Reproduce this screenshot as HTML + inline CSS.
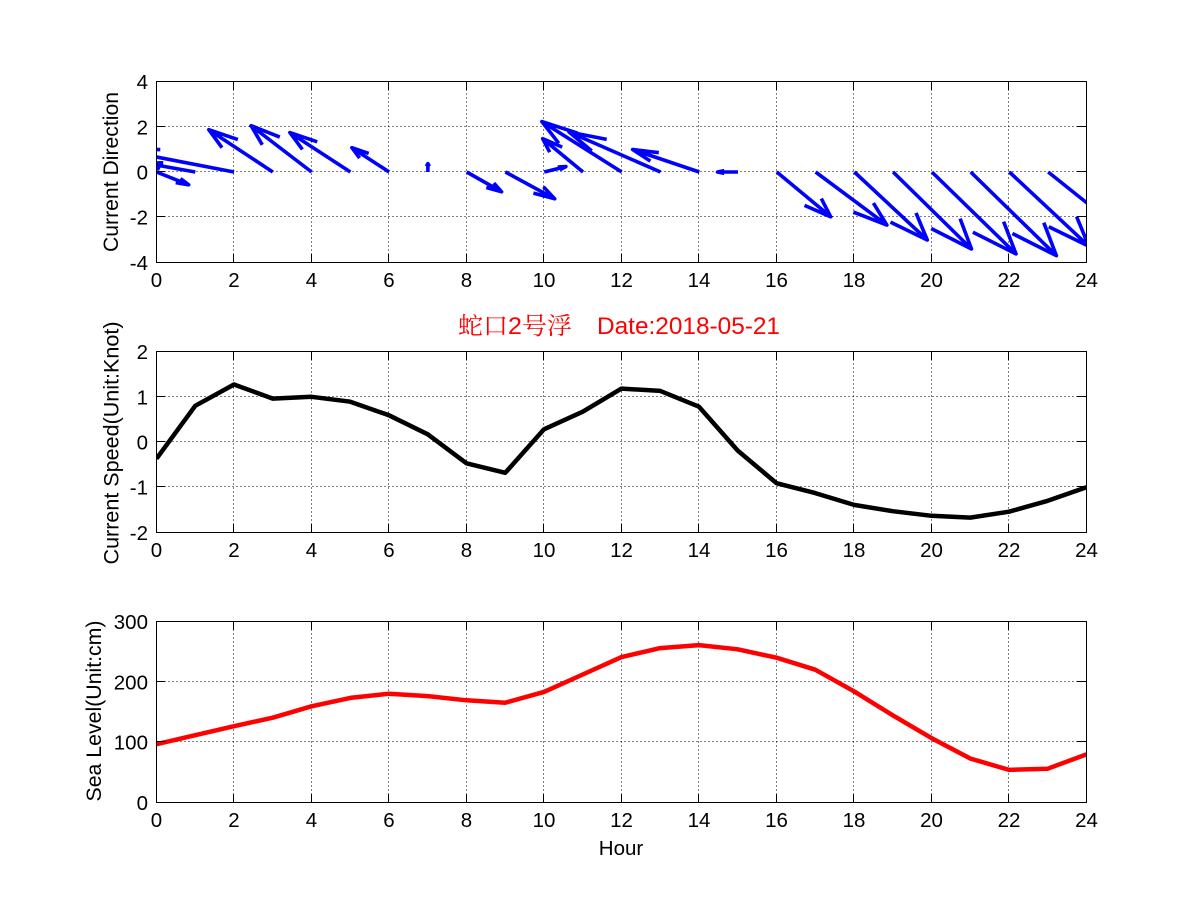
<!DOCTYPE html>
<html><head><meta charset="utf-8"><style>
html,body{margin:0;padding:0;background:#fff;}
svg{display:block;}
text{font-family:"Liberation Sans",Arial,sans-serif;fill:#000;}
</style></head><body>
<svg width="1201" height="901" viewBox="0 0 1201 901" xmlns="http://www.w3.org/2000/svg">
<rect x="0" y="0" width="1201" height="901" fill="#fff"/>
<defs>
<clipPath id="c1"><rect x="156.5" y="81.5" width="930" height="181"/></clipPath>
<clipPath id="c2"><rect x="156.5" y="351.5" width="930" height="181"/></clipPath>
<clipPath id="c3"><rect x="156.5" y="621.5" width="930" height="181"/></clipPath>
</defs>

<!-- GRIDS -->
<g stroke="#000" stroke-width="1" stroke-dasharray="1 3" fill="none" shape-rendering="crispEdges">
<path d="M233.5 81.5V262.5M311.5 81.5V262.5M388.5 81.5V262.5M466.5 81.5V262.5M543.5 81.5V262.5M621.5 81.5V262.5M698.5 81.5V262.5M776.5 81.5V262.5M853.5 81.5V262.5M931.5 81.5V262.5M1008.5 81.5V262.5M156.5 126.5H1086.5M156.5 171.5H1086.5M156.5 216.5H1086.5"/>
<path d="M233.5 351.5V532.5M311.5 351.5V532.5M388.5 351.5V532.5M466.5 351.5V532.5M543.5 351.5V532.5M621.5 351.5V532.5M698.5 351.5V532.5M776.5 351.5V532.5M853.5 351.5V532.5M931.5 351.5V532.5M1008.5 351.5V532.5M156.5 396.5H1086.5M156.5 441.5H1086.5M156.5 486.5H1086.5"/>
<path d="M233.5 621.5V802.5M311.5 621.5V802.5M388.5 621.5V802.5M466.5 621.5V802.5M543.5 621.5V802.5M621.5 621.5V802.5M698.5 621.5V802.5M776.5 621.5V802.5M853.5 621.5V802.5M931.5 621.5V802.5M1008.5 621.5V802.5M156.5 681.5H1086.5M156.5 741.5H1086.5"/>
</g>

<!-- QUIVER -->
<g clip-path="url(#c1)" stroke="#0000ff" stroke-width="3.6" fill="none" stroke-linejoin="round">
<path d="M156.5 172L188.7 184.8M180.5 178.6L188.7 184.8L175.7 182.6"/>
<path d="M195.3 172L144.9 163M159.8 169.2L144.9 163L163.2 162.8"/>
<path d="M234 172L117.7 149.5M151.9 164.3L117.7 149.5L160.3 149.6"/>
<path d="M272.8 172L208.8 129.7M222 147.7L208.8 129.7L237.9 139.6"/>
<path d="M311.6 172L251.1 125.7M262.3 144.8L251.1 125.7L279.8 137.1"/>
<path d="M350.4 172L289.9 132.6M302.4 149.4L289.9 132.6L317.2 141.8"/>
<path d="M389.1 172L351.9 147.7M359.6 158.1L351.9 147.7L368.7 153.4"/>
<path d="M427.9 172L427.9 163.7M426.3 166.4L427.9 163.7L429.4 166.4"/>
<path d="M466.7 172L501.6 191.8M493.8 183.1L501.6 191.8L486.3 187.5"/>
<path d="M505.4 172L554.7 198.8M543.5 186.8L554.7 198.8L533.4 193.1"/>
<path d="M544.2 172L565.9 166.6M557.7 167L565.9 166.6L559.8 169.8"/>
<path d="M583 172L542.7 138.7M549.7 152.2L542.7 138.7L562.2 147.1"/>
<path d="M621.7 172L541.9 121.6M558.8 143.3L541.9 121.6L577.7 133.2"/>
<path d="M660.5 172L569 132M591.7 150.9L569 132L606.7 139.4"/>
<path d="M699.3 172L632.6 149.5M650.4 161.1L632.6 149.5L658.8 152.7"/>
<path d="M738 172L717.5 172M724.3 173.3L717.5 172L724.3 170.7"/>
<path d="M776.8 172L830.7 216.8M821.3 198.6L830.7 216.8L804.5 205.4"/>
<path d="M815.6 172L886.9 225.1M873.4 203.1L886.9 225.1L853.4 212.1"/>
<path d="M854.4 172L927.3 240M916 212.9L927.3 240L890.5 222.1"/>
<path d="M893.1 172L971.5 249M960.1 218.6L971.5 249L931.2 228.5"/>
<path d="M931.9 172L1016 253.9M1003.6 221.6L1016 253.9L972.9 232.2"/>
<path d="M970.7 172L1056.4 255.7M1043.8 222.7L1056.4 255.7L1012.4 233.5"/>
<path d="M1009.4 172L1088.9 246.3M1076.6 216.7L1088.9 246.3L1048.8 226.8"/>
<path d="M1048.2 172L1133.5 240.2"/>
</g>

<!-- SPEED LINE -->
<g clip-path="url(#c2)">
<polyline fill="none" stroke="#000" stroke-width="4.5" stroke-linejoin="round" points="156.5,458.7 195.25,405.8 234,384.5 272.75,398.6 311.5,396.8 350.25,401.7 389,415.3 427.75,434.3 466.5,463.3 505.25,472.8 544,429.3 582.75,411.7 621.5,388.6 660.25,390.9 699,406.7 737.75,450.6 776.5,483.2 815.25,493.1 854,504.9 892.75,511.2 931.5,515.8 970.25,517.6 1009,511.7 1047.75,500.8 1086.5,487.3"/>
</g>

<!-- SEA LEVEL LINE -->
<g clip-path="url(#c3)">
<polyline fill="none" stroke="#ff0000" stroke-width="4.5" stroke-linejoin="round" points="156.5,744.2 195.25,735.2 234,726.2 272.75,717.7 311.5,706.3 350.25,697.9 389,693.7 427.75,696.1 466.5,700.3 505.25,702.7 544,691.9 582.75,674.5 621.5,657.1 660.25,648.1 699,645.1 737.75,649.3 776.5,657.7 815.25,669.7 854,691.3 892.75,715.3 931.5,738.1 970.25,758.5 1009,769.9 1047.75,768.7 1086.5,754.3"/>
</g>

<!-- AXES BOXES AND TICKS -->
<g stroke="#000" stroke-width="1" fill="none" shape-rendering="crispEdges">
<rect x="156.5" y="81.5" width="930" height="181"/>
<rect x="156.5" y="351.5" width="930" height="181"/>
<rect x="156.5" y="621.5" width="930" height="181"/>
<path d="M233.5 262.5V253.5M311.5 262.5V253.5M388.5 262.5V253.5M466.5 262.5V253.5M543.5 262.5V253.5M621.5 262.5V253.5M698.5 262.5V253.5M776.5 262.5V253.5M853.5 262.5V253.5M931.5 262.5V253.5M1008.5 262.5V253.5
M233.5 81.5V90.5M311.5 81.5V90.5M388.5 81.5V90.5M466.5 81.5V90.5M543.5 81.5V90.5M621.5 81.5V90.5M698.5 81.5V90.5M776.5 81.5V90.5M853.5 81.5V90.5M931.5 81.5V90.5M1008.5 81.5V90.5
M156.5 126.5H165.5M156.5 171.5H165.5M156.5 216.5H165.5M1086.5 126.5H1077.5M1086.5 171.5H1077.5M1086.5 216.5H1077.5"/>
<path d="M233.5 532.5V523.5M311.5 532.5V523.5M388.5 532.5V523.5M466.5 532.5V523.5M543.5 532.5V523.5M621.5 532.5V523.5M698.5 532.5V523.5M776.5 532.5V523.5M853.5 532.5V523.5M931.5 532.5V523.5M1008.5 532.5V523.5
M233.5 351.5V360.5M311.5 351.5V360.5M388.5 351.5V360.5M466.5 351.5V360.5M543.5 351.5V360.5M621.5 351.5V360.5M698.5 351.5V360.5M776.5 351.5V360.5M853.5 351.5V360.5M931.5 351.5V360.5M1008.5 351.5V360.5
M156.5 396.5H165.5M156.5 441.5H165.5M156.5 486.5H165.5M1086.5 396.5H1077.5M1086.5 441.5H1077.5M1086.5 486.5H1077.5"/>
<path d="M233.5 802.5V793.5M311.5 802.5V793.5M388.5 802.5V793.5M466.5 802.5V793.5M543.5 802.5V793.5M621.5 802.5V793.5M698.5 802.5V793.5M776.5 802.5V793.5M853.5 802.5V793.5M931.5 802.5V793.5M1008.5 802.5V793.5
M233.5 621.5V630.5M311.5 621.5V630.5M388.5 621.5V630.5M466.5 621.5V630.5M543.5 621.5V630.5M621.5 621.5V630.5M698.5 621.5V630.5M776.5 621.5V630.5M853.5 621.5V630.5M931.5 621.5V630.5M1008.5 621.5V630.5
M156.5 681.5H165.5M156.5 741.5H165.5M1086.5 681.5H1077.5M1086.5 741.5H1077.5"/>
</g>

<!-- X TICK LABELS -->
<g font-size="20.5" text-anchor="middle">
<text x="156.5" y="287">0</text><text x="234" y="287">2</text><text x="311.5" y="287">4</text><text x="389" y="287">6</text><text x="466.5" y="287">8</text><text x="544" y="287">10</text><text x="621.5" y="287">12</text><text x="699" y="287">14</text><text x="776.5" y="287">16</text><text x="854" y="287">18</text><text x="931.5" y="287">20</text><text x="1009" y="287">22</text><text x="1086.5" y="287">24</text>
<text x="156.5" y="557">0</text><text x="234" y="557">2</text><text x="311.5" y="557">4</text><text x="389" y="557">6</text><text x="466.5" y="557">8</text><text x="544" y="557">10</text><text x="621.5" y="557">12</text><text x="699" y="557">14</text><text x="776.5" y="557">16</text><text x="854" y="557">18</text><text x="931.5" y="557">20</text><text x="1009" y="557">22</text><text x="1086.5" y="557">24</text>
<text x="156.5" y="827">0</text><text x="234" y="827">2</text><text x="311.5" y="827">4</text><text x="389" y="827">6</text><text x="466.5" y="827">8</text><text x="544" y="827">10</text><text x="621.5" y="827">12</text><text x="699" y="827">14</text><text x="776.5" y="827">16</text><text x="854" y="827">18</text><text x="931.5" y="827">20</text><text x="1009" y="827">22</text><text x="1086.5" y="827">24</text>
</g>

<!-- Y TICK LABELS -->
<g font-size="20.5" text-anchor="end">
<text x="148" y="89">4</text><text x="148" y="134.5">2</text><text x="148" y="179.5">0</text><text x="148" y="224.5">-2</text><text x="148" y="270">-4</text>
<text x="148" y="359">2</text><text x="148" y="404.5">1</text><text x="148" y="449.5">0</text><text x="148" y="494.5">-1</text><text x="148" y="540">-2</text>
<text x="148" y="629">300</text><text x="148" y="689.5">200</text><text x="148" y="749.5">100</text><text x="148" y="810">0</text>
</g>

<!-- AXIS LABELS -->
<text font-size="21" text-anchor="middle" transform="translate(118,172) rotate(-90)" textLength="160" lengthAdjust="spacingAndGlyphs">Current Direction</text>
<text font-size="21" text-anchor="middle" transform="translate(118.5,443) rotate(-90)" textLength="243" lengthAdjust="spacingAndGlyphs">Current Speed(Unit:Knot)</text>
<text font-size="21" text-anchor="middle" transform="translate(101,711) rotate(-90)" textLength="181" lengthAdjust="spacingAndGlyphs">Sea Level(Unit:cm)</text>
<text font-size="20.5" x="621" y="855" text-anchor="middle">Hour</text>

<!-- TITLE -->
<text x="458" y="334" font-size="24" style="fill:#ff0000;font-family:'Liberation Sans','Noto Serif CJK SC','Noto Sans CJK SC',serif;" textLength="114" lengthAdjust="spacingAndGlyphs">蛇口2号浮</text>
<text x="597" y="334" font-size="24" style="fill:#ff0000;" textLength="183" lengthAdjust="spacingAndGlyphs">Date:2018-05-21</text>
</svg>
</body></html>
